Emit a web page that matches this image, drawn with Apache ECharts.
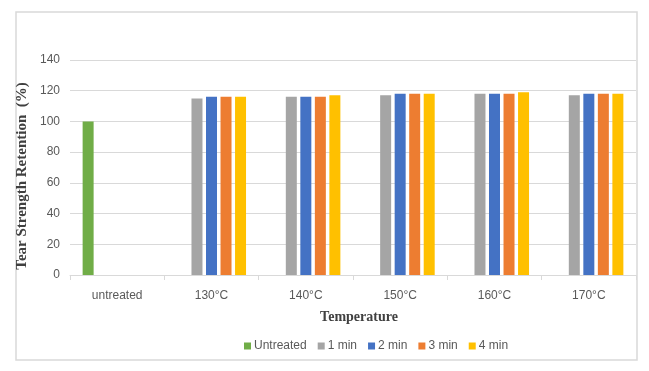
<!DOCTYPE html>
<html>
<head>
<meta charset="utf-8">
<script src="https://cdn.jsdelivr.net/npm/echarts@6/dist/echarts.min.js"></script>
<style>
  html, body { margin: 0; padding: 0; background: #fff; }
  #main { width: 649px; height: 371px; }
</style>
</head>
<body>
<div id="main"></div>
<script>
// data
var categories = ['untreated', '130°C', '140°C', '150°C', '160°C', '170°C']
var yTicks = [0, 20, 40, 60, 80, 100, 120, 140]
var seriesNames = ['Untreated', '1 min', '2 min', '3 min', '4 min']
var untreated = [100, null, null, null, null, null]
var min1 = [null, 115, 116, 117, 118, 117]
var min2 = [null, 116, 116, 118, 118, 118]
var min3 = [null, 116, 116, 118, 118, 118]
var min4 = [null, 116, 117, 118, 119, 118]
var colors = ['#70AD47', '#A5A5A5', '#4472C4', '#ED7D31', '#FFC000']

var chart = echarts.init(document.getElementById('main'))

var labelFont = 'Liberation Sans'
var titleFont = 'Liberation Serif'
var allData = [untreated, min1, min2, min3, min4]

var series = []
for (var i = 0; i < seriesNames.length; i++) {
  series.push({
    name: seriesNames[i],
    type: 'bar',
    barWidth: 11,
    barGap: '32%',
    itemStyle: { color: colors[i] },
    data: allData[i]
  })
}

var option = {
  animation: false,
  color: colors,
  grid: { left: 70, right: 13, top: 60, bottom: 96 },
  graphic: [
    {
      type: 'rect',
      shape: { x: 16, y: 12, width: 621, height: 348 },
      style: { fill: 'none', stroke: '#d9d9d9', lineWidth: 1.5 },
      z: -1
    },
    {
      type: 'text',
      x: 22, y: 176,
      rotation: Math.PI / 2,
      style: {
        text: 'Tear Strength Retention  (%)',
        font: 'bold 15px "' + titleFont + '"',
        fill: '#404040',
        align: 'center',
        verticalAlign: 'middle'
      }
    },
    {
      type: 'text',
      x: 359, y: 317,
      style: {
        text: 'Temperature',
        font: 'bold 14px "' + titleFont + '"',
        fill: '#404040',
        align: 'center',
        verticalAlign: 'middle'
      }
    }
  ],
  legend: {
    data: seriesNames,
    left: 239,
    top: 335,
    itemWidth: 7,
    itemHeight: 7,
    itemGap: 11,
    icon: 'rect',
    textStyle: { fontFamily: labelFont, fontSize: 12, color: '#595959', padding: [0, 0, 0, -2] }
  },
  xAxis: {
    type: 'category',
    data: categories,
    axisLine: { lineStyle: { color: '#d9d9d9' } },
    axisTick: { show: true, length: 5, lineStyle: { color: '#d9d9d9' } },
    axisLabel: { fontFamily: labelFont, fontSize: 12, color: '#595959', margin: 15 }
  },
  yAxis: {
    type: 'value',
    min: yTicks[0],
    max: yTicks[yTicks.length - 1],
    interval: yTicks[1] - yTicks[0],
    axisLine: { show: false },
    axisTick: { show: false },
    splitLine: { lineStyle: { color: '#d9d9d9' } },
    axisLabel: { fontFamily: labelFont, fontSize: 12, color: '#595959', margin: 10 }
  },
  series: series
}

chart.setOption(option)
</script>
</body>
</html>
